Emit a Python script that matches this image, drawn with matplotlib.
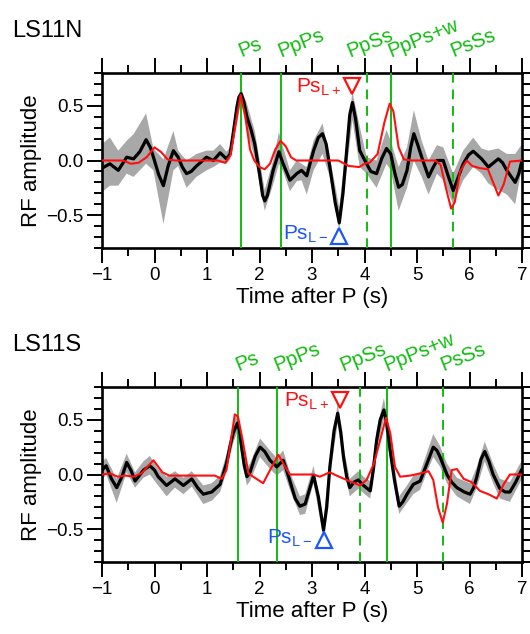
import numpy as np
import matplotlib
matplotlib.use("Agg")
import matplotlib.pyplot as plt
from matplotlib.ticker import MultipleLocator
import matplotlib.transforms as mtransforms

plt.rcParams['font.family'] = ['Liberation Sans', 'DejaVu Sans']
plt.rcParams['mathtext.fontset'] = 'custom'
plt.rcParams['mathtext.rm'] = 'Liberation Sans'
plt.rcParams['mathtext.it'] = 'Liberation Sans'

# ---------------- data: LS11N ----------------
tBlackN = [-1.00, -0.85, -0.69, -0.53, -0.40, -0.28, -0.16, -0.08, -0.02, 0.08, 0.17, 0.26,
           0.36, 0.45, 0.53, 0.61, 0.70, 0.80, 0.99, 1.12, 1.25, 1.37, 1.44, 1.50, 1.57,
           1.61, 1.65, 1.70, 1.76, 1.84, 1.91, 2.00, 2.06, 2.10, 2.15, 2.26, 2.37, 2.45,
           2.58, 2.71, 2.80, 2.90, 3.03, 3.12, 3.20, 3.27, 3.34, 3.44, 3.52, 3.59, 3.66,
           3.72, 3.77, 3.83, 3.91, 4.04, 4.12, 4.23, 4.33, 4.42, 4.50, 4.58, 4.65, 4.72,
           4.81, 4.88, 4.94, 5.01, 5.09, 5.22, 5.30, 5.38, 5.50, 5.60, 5.69, 5.78, 5.88,
           5.98, 6.07, 6.23, 6.36, 6.46, 6.55, 6.63, 6.71, 6.87, 6.94, 7.00]
blackN = [-0.07, -0.03, -0.09, 0.03, 0.015, 0.08, 0.19, 0.12, 0.03, -0.13, -0.23, -0.05,
          0.09, 0.03, -0.06, -0.12, -0.10, -0.05, 0.03, 0.00, 0.07, 0.015, 0.06, 0.25, 0.49,
          0.58, 0.61, 0.54, 0.40, 0.28, 0.15, -0.12, -0.32, -0.37, -0.32, -0.09, 0.08, -0.03,
          -0.18, -0.12, -0.09, -0.14, 0.09, 0.21, 0.245, 0.15, -0.06, -0.38, -0.57, -0.30, 0.09,
          0.42, 0.53, 0.38, 0.09, -0.03, -0.10, -0.12, 0.02, 0.11, 0.06, -0.12, -0.245, -0.22,
          -0.09, 0.12, 0.245, 0.15, 0.03, -0.15, -0.07, 0.00, 0.00, -0.15, -0.275, -0.16, -0.03,
          0.05, 0.085, 0.015, -0.06, -0.02, 0.015, -0.02, -0.09, -0.20, -0.12, 0.00]
tBandN = [-1.00, -0.85, -0.69, -0.53, -0.40, -0.16, -0.02, 0.17, 0.36, 0.45, 0.61, 0.80,
          0.99, 1.12, 1.25, 1.37, 1.44, 1.57, 1.65, 1.76, 1.91, 2.10, 2.26, 2.37, 2.45,
          2.58, 2.71, 2.80, 2.90, 3.03, 3.20, 3.34, 3.52, 3.66, 3.77, 3.91, 4.04, 4.23,
          4.42, 4.50, 4.65, 4.81, 4.94, 5.09, 5.22, 5.38, 5.50, 5.69, 5.88, 6.07, 6.23,
          6.36, 6.55, 6.71, 6.87, 7.00]
upperN = [0.15, 0.21, 0.09, 0.18, 0.24, 0.43, 0.11, 0.01, 0.27, 0.09, 0.00, 0.06,
          0.09, 0.09, 0.15, 0.08, 0.12, 0.57, 0.66, 0.52, 0.27, -0.27, 0.00, 0.26, 0.12,
          -0.09, 0.00, -0.03, -0.06, 0.18, 0.34, 0.03, -0.43, 0.18, 0.63, 0.31, 0.03, 0.00,
          0.28, 0.18, -0.06, 0.12, 0.46, 0.18, 0.00, 0.14, 0.12, -0.12, 0.09, 0.21, 0.11,
          0.09, 0.11, 0.06, 0.06, 0.15]
lowerN = [-0.29, -0.23, -0.23, -0.12, -0.15, -0.03, -0.09, -0.58, -0.09, -0.05, -0.25, -0.15,
          -0.09, -0.06, -0.02, -0.03, 0.01, 0.33, 0.55, 0.28, 0.02, -0.46, -0.22, -0.03, -0.10,
          -0.28, -0.19, -0.18, -0.31, -0.09, 0.06, -0.15, -0.64, -0.09, 0.37, -0.06, -0.12, -0.25,
          -0.03, -0.09, -0.46, -0.25, 0.00, -0.15, -0.31, -0.12, -0.18, -0.40, -0.18, -0.06, -0.12,
          -0.21, -0.27, -0.31, -0.40, -0.06]
tRedN = [-1.0, -0.6, -0.45, -0.3, -0.15, 0.0, 0.12, 0.25, 0.4, 1.2, 1.35, 1.45, 1.55, 1.64,
         1.73, 1.82, 1.9, 2.0, 2.1, 2.2, 2.3, 2.4, 2.5, 2.6, 2.7, 3.5, 3.7, 3.9, 4.0, 4.1,
         4.25, 4.38, 4.48, 4.55, 4.65, 4.75, 4.9, 5.35, 5.45, 5.55, 5.65, 5.72, 5.82, 5.95,
         6.05, 6.2, 6.35, 6.45, 6.55, 6.65, 6.77, 7.0]
redN = [0.0, 0.0, -0.03, -0.02, 0.03, 0.12, 0.08, 0.01, 0.0, 0.0, -0.02, 0.05, 0.35, 0.60,
        0.40, 0.10, 0.0, -0.06, -0.08, -0.03, 0.10, 0.18, 0.13, 0.03, 0.0, 0.0, -0.05, -0.06, -0.03, -0.02,
        0.06, 0.35, 0.52, 0.45, 0.12, 0.01, 0.0, 0.0, -0.04, -0.25, -0.44, -0.38, -0.10, 0.0,
        -0.05, -0.07, -0.08, -0.20, -0.32, -0.22, -0.01, 0.0]

# ---------------- data: LS11S ----------------
tBlackS = [-1.00, -0.92, -0.82, -0.72, -0.62, -0.53, -0.45, -0.37, -0.21, -0.09, 0.00, 0.07,
           0.23, 0.39, 0.55, 0.71, 0.82, 0.93, 1.09, 1.25, 1.37, 1.44, 1.50, 1.58, 1.62,
           1.66, 1.71, 1.76, 1.82, 1.92, 2.01, 2.10, 2.20, 2.33, 2.45, 2.51, 2.58, 2.68,
           2.77, 2.87, 2.95, 3.03, 3.12, 3.22, 3.28, 3.34, 3.42, 3.49, 3.55, 3.60, 3.66,
           3.72, 3.80, 3.88, 3.98, 4.11, 4.17, 4.23, 4.30, 4.37, 4.43, 4.49, 4.57, 4.66,
           4.73, 4.81, 4.93, 5.06, 5.19, 5.31, 5.38, 5.44, 5.57, 5.66, 5.76, 5.90, 6.01,
           6.08, 6.14, 6.22, 6.29, 6.37, 6.45, 6.58, 6.68, 6.77, 6.88, 7.00]
blackS = [0.04, 0.08, -0.04, -0.12, -0.02, 0.11, 0.04, -0.06, 0.04, 0.08, 0.04, -0.02,
          -0.10, -0.04, -0.10, -0.04, -0.12, -0.18, -0.16, -0.09, 0.10, 0.26, 0.38, 0.47, 0.40,
          0.25, 0.08, -0.02, 0.02, 0.17, 0.25, 0.21, 0.13, 0.07, 0.13, 0.05, -0.06, -0.22,
          -0.29, -0.27, -0.14, -0.01, -0.20, -0.51, -0.30, 0.07, 0.40, 0.56, 0.38, 0.16, -0.02,
          -0.12, -0.07, -0.05, -0.10, -0.15, 0.05, 0.31, 0.50, 0.59, 0.45, 0.22, -0.05, -0.29,
          -0.25, -0.18, -0.09, -0.06, 0.10, 0.25, 0.22, 0.16, 0.00, -0.07, -0.12, -0.16, -0.18,
          -0.12, -0.02, 0.14, 0.21, 0.12, 0.00, -0.13, -0.16, -0.16, -0.07, 0.05]
tBandS = [-1.00, -0.92, -0.72, -0.53, -0.37, -0.21, -0.09, 0.07, 0.23, 0.39, 0.55, 0.71,
          0.93, 1.09, 1.25, 1.37, 1.50, 1.58, 1.66, 1.76, 1.82, 2.01, 2.20, 2.33, 2.45,
          2.58, 2.77, 2.87, 3.03, 3.22, 3.34, 3.49, 3.60, 3.72, 3.88, 3.98, 4.11, 4.23,
          4.37, 4.49, 4.66, 4.81, 4.93, 5.06, 5.19, 5.31, 5.44, 5.57, 5.76, 6.01, 6.14,
          6.29, 6.45, 6.58, 6.77, 7.00]
upperS = [0.12, 0.15, -0.04, 0.19, 0.02, 0.12, 0.17, 0.05, -0.02, 0.03, -0.03, 0.03,
          -0.10, -0.08, -0.01, 0.18, 0.47, 0.57, 0.34, 0.06, 0.10, 0.33, 0.22, 0.15, 0.22,
          0.02, -0.20, -0.18, 0.08, -0.42, 0.15, 0.65, 0.25, -0.04, 0.03, -0.02, -0.06, 0.40,
          0.70, 0.32, -0.20, -0.10, -0.01, 0.02, 0.20, 0.37, 0.26, 0.10, -0.03, -0.08, 0.07,
          0.30, 0.10, -0.04, -0.07, 0.13]
lowerS = [-0.05, 0.00, -0.26, 0.02, -0.12, -0.03, 0.00, -0.10, -0.20, -0.12, -0.18, -0.11,
          -0.27, -0.24, -0.16, 0.02, 0.29, 0.39, 0.15, -0.10, -0.06, 0.16, 0.05, -0.01, 0.04,
          -0.14, -0.37, -0.36, -0.08, -0.58, -0.02, 0.47, 0.07, -0.20, -0.13, -0.17, -0.22, 0.22,
          0.50, 0.12, -0.36, -0.26, -0.18, -0.14, 0.02, 0.16, 0.07, -0.08, -0.20, -0.27, -0.12,
          0.12, -0.08, -0.22, -0.25, -0.04]
tRedS = [-1.0, -0.85, -0.7, -0.55, -0.4, -0.25, -0.02, 0.15, 0.28, 1.15, 1.28, 1.37, 1.53,
         1.59, 1.68, 1.79, 1.88, 2.07, 2.2, 2.36, 2.49, 2.58, 3.03, 3.15, 3.34, 3.47, 3.66,
         3.91, 4.04, 4.18, 4.35, 4.41, 4.49, 4.58, 4.68, 4.87, 5.06, 5.22, 5.31, 5.4, 5.49,
         5.57, 5.66, 5.76, 5.89, 6.04, 6.2, 6.36, 6.52, 6.65, 6.77, 7.0]
redS = [0.0, 0.01, -0.02, -0.01, -0.02, 0.01, 0.13, 0.02, -0.01, -0.01, -0.04, 0.04, 0.55,
        0.53, 0.31, 0.01, -0.02, -0.08, 0.04, 0.18, 0.07, 0.0, 0.0, -0.02, 0.02, -0.01, -0.05,
        -0.10, -0.05, 0.10, 0.41, 0.52, 0.38, 0.07, -0.02, -0.01, 0.01, 0.03, -0.05, -0.30, -0.44,
        -0.27, 0.04, 0.05, -0.04, -0.07, -0.15, -0.18, -0.22, -0.09, 0.0, 0.0]

# phase labels and times
phase_names = ['Ps', 'PpPs', 'PpSs', 'PpPs+w', 'PsSs']
phase_dashed = [False, False, True, False, True]
phasesN = [1.65, 2.40, 4.05, 4.50, 5.69]
phasesS = [1.59, 2.33, 3.92, 4.43, 5.50]
phase_label_xN = [1.65, 2.40, 3.72, 4.50, 5.69]
phase_label_xS = [1.59, 2.33, 3.58, 4.43, 5.50]

# PsL markers: (time, value)
psl_plusN = (3.76, 0.68)
psl_minusN = (3.52, -0.69)
psl_plusS = (3.53, 0.68)
psl_minusS = (3.22, -0.60)

stations = ['LS11N', 'LS11S']

GREEN = '#11bb11'
RED = '#ff1010'
BLUE = '#1a55ff'
GRAY = '#a8a8a8'

fig = plt.figure(figsize=(5.30, 6.34), dpi=100)
W, H = 530.0, 634.0
panels = [
    dict(box=(102, 73, 522, 248), tb=tBlackN, black=blackN, tg=tBandN, up=upperN, lo=lowerN,
         tr=tRedN, red=redN, ph=phasesN, phx=phase_label_xN, pp=psl_plusN, pm=psl_minusN,
         title_y=31),
    dict(box=(102, 387, 522, 562), tb=tBlackS, black=blackS, tg=tBandS, up=upperS, lo=lowerS,
         tr=tRedS, red=redS, ph=phasesS, phx=phase_label_xS, pp=psl_plusS, pm=psl_minusS,
         title_y=345),
]

for name, p in zip(stations, panels):
    x0, y0, x1, y1 = p['box']
    ax = fig.add_axes([x0 / W, 1 - y1 / H, (x1 - x0) / W, (y1 - y0) / H])
    tg = np.array(p['tg'])
    ax.fill(np.r_[tg, tg[::-1]], np.r_[p['up'], np.array(p['lo'])[::-1]],
            color=GRAY, lw=0, zorder=1)
    ax.plot(p['tb'], p['black'], color='black', lw=2.3, zorder=4,
            solid_joinstyle='round', solid_capstyle='round')
    ax.plot(p['tr'], p['red'], color=RED, lw=1.5, zorder=5, solid_joinstyle='round')
    for tp, dashed in zip(p['ph'], phase_dashed):
        ax.axvline(tp, color=GREEN, lw=1.4, ls=(0, (5, 3.5)) if dashed else '-', zorder=3)
    trans = mtransforms.blended_transform_factory(ax.transData, ax.transAxes)
    for lbl, lx in zip(phase_names, p['phx']):
        ax.text(lx, 1.09, lbl, transform=trans, color=GREEN, fontsize=14.5,
                rotation=22, rotation_mode='anchor', ha='left', va='baseline',
                clip_on=False)
    # PsL markers
    ax.plot([p['pp'][0]], [p['pp'][1]], marker='v', ms=11, mfc='none', mec=RED,
            mew=1.6, zorder=6, clip_on=False)
    ax.annotate(r'Ps$_{\mathrm{L+}}$', xy=p['pp'], xytext=(-8, -1),
                textcoords='offset points', ha='right', va='center',
                color=RED, fontsize=15)
    ax.plot([p['pm'][0]], [p['pm'][1]], marker='^', ms=11, mfc='none', mec=BLUE,
            mew=1.6, zorder=6, clip_on=False)
    ax.annotate(r'Ps$_{\mathrm{L-}}$', xy=p['pm'], xytext=(-8, 1),
                textcoords='offset points', ha='right', va='center',
                color=BLUE, fontsize=15)

    ax.set_xlim(-1, 7)
    ax.set_ylim(-0.8, 0.8)
    ax.xaxis.set_major_locator(MultipleLocator(1))
    ax.xaxis.set_minor_locator(MultipleLocator(0.5))
    ax.yaxis.set_major_locator(MultipleLocator(0.5))
    ax.yaxis.set_minor_locator(MultipleLocator(0.1))
    ax.tick_params(which='both', direction='out', top=True, right=True, width=1.4,
                   labelsize=13.5, pad=3)
    ax.tick_params(which='major', length=10.5)
    ax.tick_params(which='minor', length=6)
    ax.set_yticks([-0.5, 0.0, 0.5])
    ax.set_yticklabels(['\u22120.5', '0.0', '0.5'])
    for s in ax.spines.values():
        s.set_linewidth(1.9)
    ax.set_xlabel('Time after P (s)', fontsize=16, labelpad=2)
    ax.set_ylabel('RF amplitude', fontsize=16, labelpad=3)
    fig.text(12 / W, 1 - p['title_y'] / H, name, fontsize=17, ha='left', va='center')

fig.savefig('out.png', dpi=100)
